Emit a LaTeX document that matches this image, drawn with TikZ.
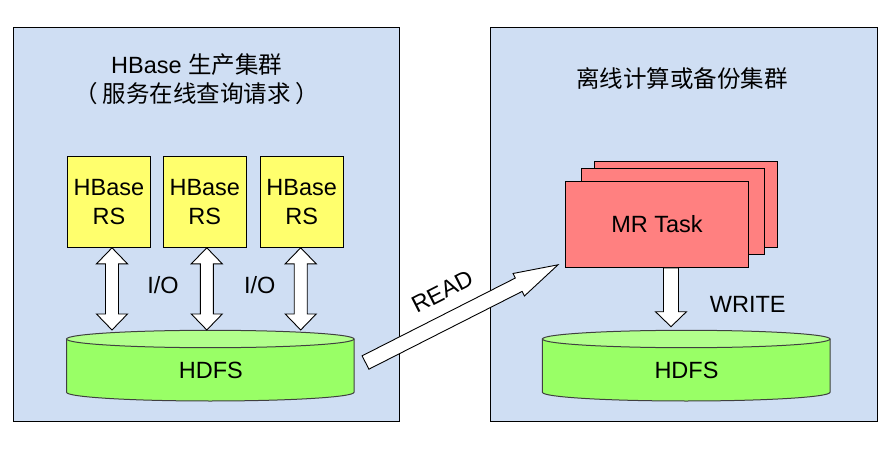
\documentclass[tikz,border=0pt]{standalone}
\usepackage{fontspec}
\setmainfont{Liberation Sans}
\newfontfamily\cjk{Noto Sans CJK SC}
\usetikzlibrary{calc}
%
\definecolor{panelblue}{RGB}{207,222,243}
\definecolor{rsyellow}{RGB}{255,255,109}
\definecolor{taskred}{RGB}{255,128,128}
\definecolor{hdfsgreen}{RGB}{153,255,102}
\definecolor{hdfstop}{RGB}{178,255,140}
%
\tikzset{
  every node/.style={font=\fontsize{23.5}{28.5}\selectfont},
  panel/.style={draw=black, fill=panelblue, line width=1pt},
  rsbox/.style={draw, fill=rsyellow, line width=1pt, minimum width=83pt, minimum height=91pt, align=center, inner sep=0pt},
  taskbox/.style={draw, fill=taskred, line width=1pt, minimum width=183pt, minimum height=86pt, inner sep=0pt},
  cyl/.style={draw=black!75, fill=hdfsgreen, line width=1pt},
  cyltop/.style={draw=black!75, fill=hdfstop, line width=1pt},
  blockarrow/.style={draw=black, fill=white, line width=0.9pt},
}
%
% tips at #1 and #2, shaft half width #3, head half width #4, head length #5
\newcommand{\dblarrow}[5]{%
  \coordinate (ca) at ($(#1)!#5!(#2)$);
  \coordinate (cb) at ($(#2)!#5!(#1)$);
  \draw[blockarrow] (#1) -- ($(ca)!#4!90:(#2)$) -- ($(ca)!#3!90:(#2)$)
    -- ($(cb)!#3!-90:(#1)$) -- ($(cb)!#4!-90:(#1)$) -- (#2)
    -- ($(cb)!#4!90:(#1)$) -- ($(cb)!#3!90:(#1)$)
    -- ($(ca)!#3!-90:(#2)$) -- ($(ca)!#4!-90:(#2)$) -- cycle;
}
% tail #1, tip #2
\newcommand{\sglarrow}[5]{%
  \coordinate (cb) at ($(#2)!#5!(#1)$);
  \draw[blockarrow] ($(#1)!#3!90:(#2)$) -- ($(cb)!#3!-90:(#1)$) -- ($(cb)!#4!-90:(#1)$)
    -- (#2) -- ($(cb)!#4!90:(#1)$) -- ($(cb)!#3!90:(#1)$)
    -- ($(#1)!#3!-90:(#2)$) -- cycle;
}
%
\begin{document}
\begin{tikzpicture}[x=1pt,y=1pt]
\useasboundingbox (0,0) rectangle (895,448);
%
% production cluster
\draw[panel] (13.5,27) rectangle (399.5,420);
\node[align=center] (title1) at (196.7,369) {HBase {\cjk 生产集群}\\{\cjk （\hspace{5pt}服务在线查询请求\hspace{5pt}）}};
%
\node[rsbox] (rs1) at (109,246.2) {HBase\\RS};
\node[rsbox] (rs2) at (204.8,246.2) {HBase\\RS};
\node[rsbox] (rs3) at (301.7,246.2) {HBase\\RS};
%
\coordinate (db1) at (210.3,109);
\draw[cyl] ($(db1)+(-143.7,0)$) -- ++(0,-53.3) arc[start angle=180, end angle=360, x radius=143.7, y radius=8.7] -- ++(0,53.3) -- cycle;
\draw[cyltop] (db1) ellipse[x radius=143.7, y radius=8.7];
\node (hdfs1) at (210.8,77.5) {HDFS};
%
\coordinate (s1) at ([xshift=3pt]rs1.south);
\coordinate (s2) at ([xshift=2pt]rs2.south);
\coordinate (s3) at ([xshift=-1pt]rs3.south);
\coordinate (e1) at ($(s1 |- db1)+(0,9)$);
\coordinate (e2) at ($(s2 |- db1)+(0,9)$);
\coordinate (e3) at ($(s3 |- db1)+(0,9)$);
\dblarrow{s1}{e1}{6.5pt}{15.5pt}{16pt}
\dblarrow{s2}{e2}{6.5pt}{15.5pt}{16pt}
\dblarrow{s3}{e3}{6.5pt}{15.5pt}{16pt}
%
\node (io1) at (163,163) {I/O};
\node (io2) at (259.7,163) {I/O};
%
%
%
% offline cluster
\draw[panel] (490.5,27) rectangle (877,420);
\node (title2) at (682,369) {\cjk 离线计算或备份集群};
%
\node[taskbox] (task3) at (686,243.5) {};
\node[taskbox] (task2) at (673,236.7) {};
\node[taskbox] (task1) at (657,223.7) {MR Task};
%
\coordinate (db2) at (686.2,109);
\draw[cyl] ($(db2)+(-143.8,0)$) -- ++(0,-53.3) arc[start angle=180, end angle=360, x radius=143.8, y radius=8.7] -- ++(0,53.3) -- cycle;
\draw[cyltop] (db2) ellipse[x radius=143.8, y radius=8.7];
\node (hdfs2) at (686.5,77.5) {HDFS};
%
\coordinate (w1) at ([xshift=14pt]task1.south);
\coordinate (w2) at ($(w1 |- db2)+(0,12.3)$);
\sglarrow{w1}{w2}{7.5pt}{15.5pt}{15pt}
\node (write) at (747.7,144) {WRITE};
%
%
%
% copy between clusters
\coordinate (r1) at ($(db1)+(155.2,-23.5)$);
\coordinate (r2) at ($(task1.south west)+(-7,3)$);
\sglarrow{r1}{r2}{7.5pt}{12.6pt}{44pt}
\node[rotate=27] (read) at (442.3,156.3) {READ};
%
\end{tikzpicture}
\end{document}
